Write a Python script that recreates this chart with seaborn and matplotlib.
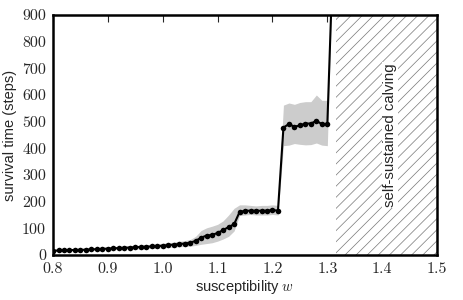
import numpy as np
import pandas as pd
import seaborn as sns
import matplotlib.pyplot as plt

# susceptibility grid and mean survival time
w = [0.80, 0.81, 0.82, 0.83, 0.84, 0.85, 0.86, 0.87, 0.88, 0.89,
     0.90, 0.91, 0.92, 0.93, 0.94, 0.95, 0.96, 0.97, 0.98, 0.99,
     1.00, 1.01, 1.02, 1.03, 1.04, 1.05, 1.06, 1.07, 1.08, 1.09,
     1.10, 1.11, 1.12, 1.13, 1.14, 1.15, 1.16, 1.17, 1.18, 1.19,
     1.20, 1.21, 1.22, 1.23, 1.24, 1.25, 1.26, 1.27, 1.28, 1.29,
     1.30, 1.31]
survival = [16, 17, 18, 18, 19, 19, 20, 21, 22, 23,
            24, 25, 26, 27, 28, 29, 30, 31, 32, 33,
            35, 37, 39, 41, 43, 46, 53, 65, 73, 75,
            83, 93, 105, 115, 161, 166, 166, 166, 166, 166,
            169, 166, 478, 491, 481, 486, 493, 493, 503, 491,
            490, 1100]
# spread (lower / upper edge of the grey band)
band_lo = [13, 14, 15, 15, 16, 16, 16, 17, 18, 19,
           19, 20, 21, 21, 22, 23, 23, 24, 25, 26,
           27, 28, 30, 31, 32, 33, 36, 40, 43, 46,
           52, 60, 70, 90, 148, 150, 152, 150, 150, 150,
           152, 150, 410, 412, 418, 415, 413, 414, 420, 412,
           410, 1100]
band_hi = [19, 20, 21, 21, 22, 23, 24, 25, 26, 27,
           29, 30, 31, 33, 34, 36, 37, 39, 40, 42,
           44, 46, 48, 51, 54, 58, 70, 92, 102, 108,
           115, 128, 150, 175, 188, 188, 186, 184, 186, 186,
           188, 186, 562, 570, 565, 572, 575, 575, 600, 580,
           580, 1100]

df = pd.DataFrame({"w": w, "t": survival})

sns.set_style("white")
plt.rcParams["font.family"] = ["Liberation Sans", "DejaVu Sans"]
plt.rcParams["mathtext.fontset"] = "cm"
plt.rcParams["hatch.linewidth"] = 0.5

fig = plt.figure(figsize=(4.63, 3.0), dpi=100)
ax = fig.add_axes([0.1145, 0.15, 0.8295, 0.80])

ax.fill_between(w, band_lo, band_hi, color="#cccccc", lw=0)
sns.lineplot(data=df, x="w", y="t", ax=ax, color="black", lw=1.5,
             marker="o", markersize=4, markeredgewidth=0)

# unstable region
ax.axvspan(1.315, 1.5, facecolor="white", edgecolor="#777777",
           hatch="///", lw=0)
ax.text(1.414, 450, "self-sustained calving", rotation=90,
        ha="center", va="center", fontsize=10.8,
        bbox=dict(facecolor="white", edgecolor="none", pad=1))

ax.set_xlim(0.8, 1.5)
ax.set_ylim(0, 900)
ax.set_xticks([0.8, 0.9, 1.0, 1.1, 1.2, 1.3, 1.4, 1.5])
ax.set_yticks(range(0, 901, 100))
ax.tick_params(direction="in", top=True, right=True, length=5, width=0.8,
               labelsize=11.5, pad=5)
for lab in ax.get_xticklabels() + ax.get_yticklabels():
    lab.set_family("cmr10")
for s in ax.spines.values():
    s.set_linewidth(1.8)
    s.set_color("black")

ax.set_xlabel("susceptibility $w$", fontsize=10.5, labelpad=2)
ax.set_ylabel("survival time (steps)", fontsize=10.5)

fig.savefig("out.png", dpi=100)
